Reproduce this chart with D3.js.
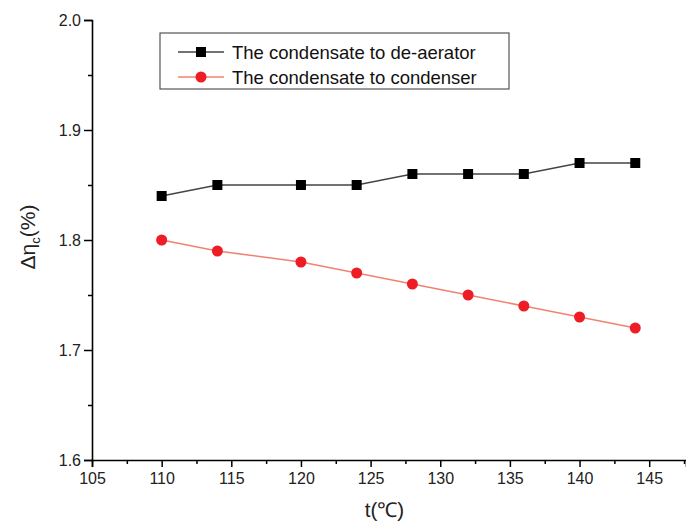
<!DOCTYPE html>
<html>
<head>
<meta charset="utf-8">
<script src="https://cdn.jsdelivr.net/npm/d3@7"></script>
<style>
body { margin: 0; background: #fff; }
svg { display: block; font-family: "Liberation Sans", Arial, sans-serif; }
</style>
</head>
<body>
<svg width="686" height="525"></svg>
<script>
// data
var temps = [110, 114, 120, 124, 128, 132, 136, 140, 144];
var deaerator = [1.84, 1.85, 1.85, 1.85, 1.86, 1.86, 1.86, 1.87, 1.87];
var condenser = [1.80, 1.79, 1.78, 1.77, 1.76, 1.75, 1.74, 1.73, 1.72];
var seriesNames = ["The condensate to de-aerator", "The condensate to condenser"];
var xTicks = [105, 110, 115, 120, 125, 130, 135, 140, 145];
var yTicks = [1.6, 1.7, 1.8, 1.9, 2.0];

var svg = d3.select("svg"),
	margin = {top: 20, right: 0, bottom: 65, left: 92},
	width = +svg.attr("width") - margin.left - margin.right,
	height = +svg.attr("height") - margin.top - margin.bottom,
	g = svg.append("g").attr("transform", "translate(" + margin.left + "," + margin.top + ")");

var x = d3.scaleLinear().domain([105, 105 + width / 13.93]).range([0, width]);
var y = d3.scaleLinear().domain([1.6, 2.0]).range([height, 0]);

// minor ticks
var xMinor = d3.range(107.5, 147.6, 5);
var yMinor = d3.range(1.65, 2.0, 0.1);

g.append("g")
	.attr("transform", "translate(0," + height + ")")
	.call(d3.axisBottom(x).tickValues(xTicks).tickSize(7).tickPadding(6).tickFormat(d3.format("d")));
g.append("g")
	.attr("transform", "translate(0," + height + ")")
	.call(d3.axisBottom(x).tickValues(xMinor).tickSize(4).tickFormat(""))
	.select(".domain").remove();

g.append("g")
	.call(d3.axisLeft(y).tickValues(yTicks).tickSize(8).tickPadding(3).tickFormat(d3.format(".1f")));
g.append("g")
	.call(d3.axisLeft(y).tickValues(yMinor).tickSize(4).tickFormat(""))
	.select(".domain").remove();

g.selectAll(".domain").attr("stroke", "#000").attr("stroke-width", 1.6);
g.selectAll(".tick line").attr("stroke", "#000").attr("stroke-width", 1.5);
g.selectAll(".tick text").attr("font-size", 16).attr("fill", "#222");

// axis labels
svg.append("text")
	.attr("x", margin.left + x(126))
	.attr("y", 517)
	.attr("text-anchor", "middle")
	.attr("font-size", 20.5)
	.attr("fill", "#222")
	.text("t(℃)");

var ylab = svg.append("text")
	.attr("transform", "translate(35," + (margin.top + y(1.8) - 3) + ") rotate(-90)")
	.attr("text-anchor", "middle")
	.attr("font-size", 21)
	.attr("fill", "#222");
ylab.append("tspan").text("Δη");
ylab.append("tspan").attr("font-size", 13).attr("dy", 5).text("c");
ylab.append("tspan").attr("dy", -5).text("(%)");

// lines
var line = d3.line()
	.x(function (d, i) { return x(temps[i]); })
	.y(function (d) { return y(d); });

g.append("path")
	.datum(deaerator)
	.attr("fill", "none")
	.attr("stroke", "#444")
	.attr("stroke-width", 1.5)
	.attr("d", line);

g.append("path")
	.datum(condenser)
	.attr("fill", "none")
	.attr("stroke", "#f2826f")
	.attr("stroke-width", 1.5)
	.attr("d", line);

g.selectAll(".sq")
	.data(deaerator)
	.enter().append("rect")
	.attr("class", "sq")
	.attr("x", function (d, i) { return x(temps[i]) - 5; })
	.attr("y", function (d) { return y(d) - 5; })
	.attr("width", 10)
	.attr("height", 10)
	.attr("fill", "#000");

g.selectAll(".dot")
	.data(condenser)
	.enter().append("circle")
	.attr("class", "dot")
	.attr("cx", function (d, i) { return x(temps[i]); })
	.attr("cy", function (d) { return y(d); })
	.attr("r", 5.5)
	.attr("fill", "#ee1c25");

// legend
var legend = svg.append("g");
legend.append("rect")
	.attr("x", 160).attr("y", 33)
	.attr("width", 349).attr("height", 56)
	.attr("fill", "#fff")
	.attr("stroke", "#555")
	.attr("stroke-width", 1.2);

var legendStyles = [
	{stroke: "#444", fill: "#000", shape: "square"},
	{stroke: "#f2826f", fill: "#ee1c25", shape: "circle"}
];
seriesNames.forEach(function (name, i) {
	var cy = 52 + i * 25;
	legend.append("line")
		.attr("x1", 178).attr("x2", 224)
		.attr("y1", cy).attr("y2", cy)
		.attr("stroke", legendStyles[i].stroke)
		.attr("stroke-width", 1.3);
	if (legendStyles[i].shape == "square") {
		legend.append("rect")
			.attr("x", 196).attr("y", cy - 5)
			.attr("width", 10).attr("height", 10)
			.attr("fill", legendStyles[i].fill);
	} else {
		legend.append("circle")
			.attr("cx", 201).attr("cy", cy)
			.attr("r", 5.5)
			.attr("fill", legendStyles[i].fill);
	}
	legend.append("text")
		.attr("x", 232).attr("y", cy + 6.5)
		.attr("font-size", 18.5)
		.attr("fill", "#111")
		.text(name);
});
</script>
</body>
</html>
